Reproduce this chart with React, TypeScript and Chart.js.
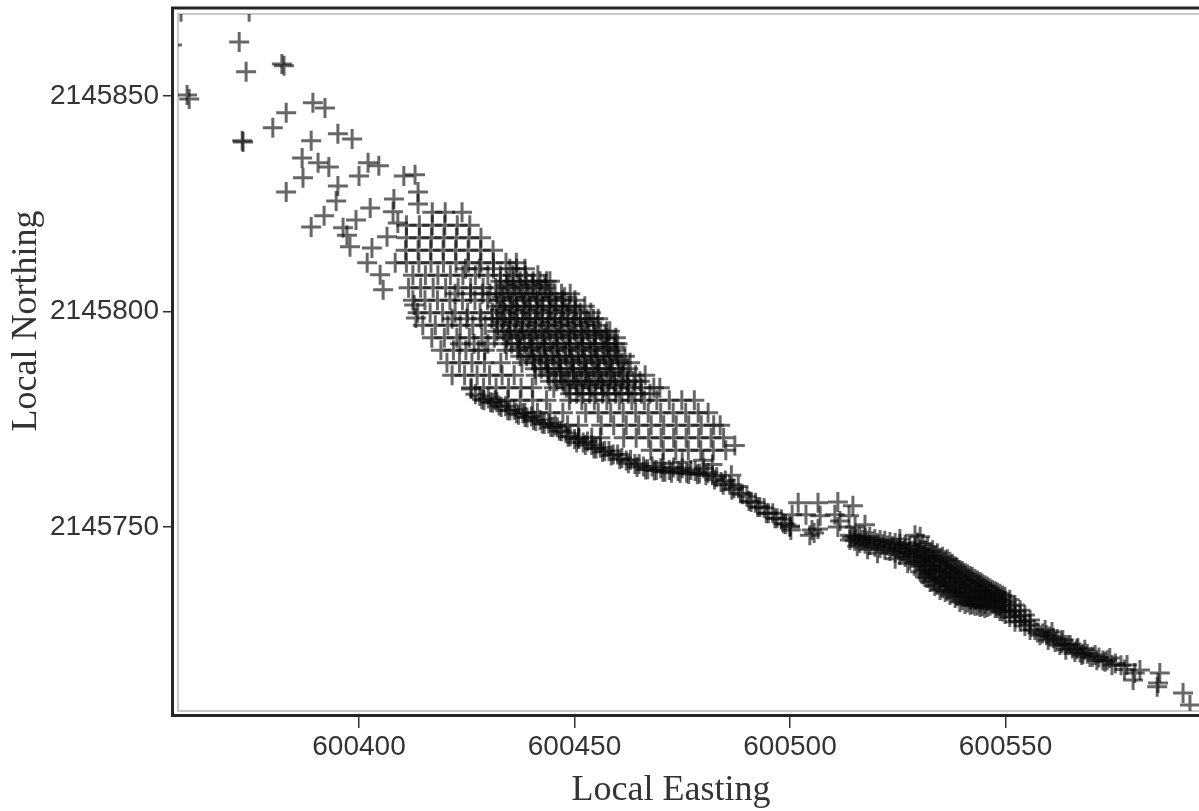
import React, { useEffect, useRef } from "react";
import { Chart, registerables } from "chart.js";

Chart.register(...registerables);

const EAST_BASE = 600000;
const NORTH_BASE = 2145000;
const xTickValues = [600400, 600450, 600500, 600550];
const yTickValues = [2145750, 2145800, 2145850];
const xAxisTitle = "Local Easting";
const yAxisTitle = "Local Northing";

// Isolated soundings, upper left
const sparseEast = [358.7, 374.5, 356.6, 372.2, 373.8, 382.1, 382.6, 360.1, 360.6, 383.1, 389.3, 392.1, 380.0, 372.9, 373.1, 388.9, 395.1, 398.4, 386.8, 390.5, 393.0, 387.0, 383.1, 395.1, 394.7, 402.1, 404.6, 400.0, 410.4, 413.0, 413.7, 413.7, 408.1, 402.6, 391.9, 388.9, 399.3, 396.3, 397.2, 407.9, 397.9, 403.0, 401.9, 404.9, 405.6, 408.4, 406.5, 409.0, 413.2, 412.8];
const sparseNorth = [869.5, 869.5, 861.8, 862.5, 855.6, 857.4, 857.0, 850.2, 849.3, 846.1, 848.4, 847.2, 842.6, 839.6, 839.3, 839.6, 841.2, 840.0, 835.6, 834.5, 833.5, 831.0, 827.7, 829.1, 825.6, 834.5, 833.8, 831.4, 831.4, 831.7, 827.7, 824.9, 826.1, 824.0, 822.2, 819.6, 821.2, 819.4, 817.7, 823.1, 815.0, 814.7, 811.3, 808.5, 805.0, 811.3, 817.3, 820.5, 798.5, 801.5];

// Regular lattice of the upper lobe, one northing per row
const latticeNorth = [823, 820, 817.1, 814.2, 811.3, 808.4, 805.5, 802.6, 799.7, 796.8, 793.9, 791, 788.1, 785.2, 782.3, 779.4, 776.5, 773.6, 770.7, 767.8, 768.9];
const latticeEast = [
  [417.0, 420.0, 423.9],
  [411, 414, 417, 419.9, 422.8, 425.7],
  [411, 414, 416.8, 419.7, 422.6, 425.5, 428.3],
  [410.8, 413.7, 416.6, 419.5, 422.4, 425.3, 428.2, 431.1],
  [411, 413.9, 416.7, 419.6, 422.5, 425.4, 428.3, 431.2, 434.1, 436.5],
  [412.5, 415.4, 418.3, 421.2, 424.1, 427, 429.9, 432.8, 435.7, 438.6, 441.5],
  [411.5, 414.3, 417.2, 420.1, 423, 425.9, 428.8, 431.7, 434.6, 437.5, 440.4, 443.3],
  [412.5, 415.3, 418.2, 421.1, 424, 426.9, 429.8, 432.7, 435.6, 438.5, 441.4, 444.3, 447.2, 450.1],
  [413.6, 416.5, 419.4, 422.3, 425.2, 428.1, 431, 433.9, 436.8, 439.7, 442.6, 445.5, 448.4, 451.3, 453.8],
  [414.8, 417.7, 420.6, 423.5, 426.4, 429.3, 432.2, 435.1, 438, 440.9, 443.8, 446.7, 449.6, 452.5, 455.4],
  [416.9, 419.8, 422.7, 425.6, 428.5, 431.4, 434.3, 437.2, 440.1, 443, 445.9, 448.8, 451.7, 454.6, 457.5, 459.6],
  [419, 421.9, 424.8, 427.7, 429.2, 434.2, 436.8, 439.5, 442.2, 445.1, 448, 450.9, 453.8, 456.7, 459.6],
  [420.4, 423.3, 426.2, 429.1, 432.9, 437.8, 440.7, 443.6, 446.5, 449.4, 452.3, 455.2, 458.1, 461, 462.9],
  [421.6, 424.5, 427.4, 430.3, 433.2, 436, 441, 443.9, 446.8, 449.7, 452.6, 455.5, 458.4, 461.3, 464.2, 466.4],
  [426, 428.9, 431.8, 434.7, 437.6, 440.2, 445.2, 448.1, 451, 453.9, 456.8, 459.7, 462.6, 465.5, 468.4, 469.8],
  [431.6, 434.5, 437.4, 440.3, 443.5, 448.8, 451.7, 454.6, 457.5, 460.4, 463.3, 466.2, 469.1, 472, 474.9, 477.8],
  [438.5, 441.4, 444.3, 447.3, 452.6, 455.5, 458.4, 461.3, 464.2, 467.1, 470, 472.9, 475.8, 478.7, 481],
  [445.5, 448.4, 450.9, 456.2, 459.1, 462, 464.9, 467.8, 470.7, 473.6, 476.5, 479.4, 482.3, 483.8],
  [451, 454, 456, 461.4, 464.3, 467.2, 470.1, 473, 475.9, 478.8, 481.7, 484.6],
  [467.7, 470.6, 473.5, 476.4, 479.3, 482.2, 485.1],
  [487.2],
];

// Passes that darken the lattice on its way into the core
const fadeNorth = [809.9, 804.1, 798.3, 792.5];
const fadeEast = [
  [424.7, 427.9, 431.2],
  [422.3, 425.9, 428.6, 430.4],
  [421.6, 425, 428.3, 430.8],
  [423.4, 426.7, 429.9],
];

// Overlapping passes that make the dark core
const coreNorth = [809.9, 807, 804.1, 801.2, 798.3, 795.4, 792.5, 789.6, 786.7, 783.8, 780.9];
const coreEast = [
  [435, 436.6, 438.5],
  [432.8, 434.3, 435.8, 437.4, 438.9, 440.4, 442, 443.5, 444.3],
  [432, 433.5, 435, 436.5, 438, 439.5, 441, 442.5, 444, 445.5, 447, 449],
  [432, 433.6, 435.1, 436.6, 438.2, 439.7, 441.2, 442.7, 444.2, 445.8, 447.3, 448.8, 450.3, 452.4],
  [432, 433.4, 434.9, 436.4, 437.9, 439.4, 440.9, 442.4, 443.9, 445.4, 446.9, 448.4, 449.9, 451.4, 452.9, 454.4, 455.5],
  [432, 433.5, 435, 436.5, 438, 439.5, 441, 442.5, 444, 445.5, 447, 448.5, 450, 451.5, 453, 454.5, 456, 457.5, 458.2],
  [433.9, 435.4, 436.9, 438.4, 439.9, 441.4, 442.9, 444.4, 445.9, 447.4, 448.9, 450.4, 451.9, 453.4, 454.9, 456.4, 457.9, 459.4, 460],
  [437.4, 438.9, 440.4, 441.9, 443.4, 444.9, 446.4, 447.9, 449.4, 450.9, 452.4, 453.9, 455.4, 456.9, 458.4, 459.9, 461.7],
  [440.8, 442.3, 443.8, 445.3, 446.8, 448.3, 449.8, 451.3, 452.8, 454.3, 455.8, 457.3, 458.8, 460.3, 462.4],
  [444.3, 445.8, 447.3, 448.8, 450.3, 451.8, 453.3, 454.8, 456.3, 457.8, 459.3, 460.8, 462.3, 463.8, 465.2],
  [449, 450.5, 452, 453.5, 455, 456.5, 458, 459.5, 461, 462.5, 464, 465.5, 467.5],
];

// A second set of passes across the darkest part of the core
const core2North = [806.2, 803.3, 800.4, 797.5, 794.6, 791.7, 788.8, 785.9, 783];
const core2East = [
  [434.2, 437.1, 440.2, 443.1],
  [433.2, 436.1, 439, 441.9, 444.8, 447.7],
  [432.7, 435.6, 438.5, 441.4, 444.3, 447.2, 450.1],
  [433.1, 436, 438.9, 441.8, 444.7, 447.6, 450.5, 453.4],
  [434.6, 437.5, 440.4, 443.3, 446.2, 449.1, 452, 454.9, 457.1],
  [437.2, 440.1, 443, 445.9, 448.8, 451.7, 454.6, 457.5, 459.2],
  [440.3, 443.2, 446.1, 449, 451.9, 454.8, 457.7, 460.3],
  [443.9, 446.8, 449.7, 452.6, 455.5, 458.4, 461.3],
  [447.6, 450.5, 453.4, 456.3, 459.2, 462.1],
];

// Tight track along the bottom of the lobe
const trackEast = [426, 427, 428, 429, 430, 431, 432, 433, 434, 435, 436, 437, 438, 439, 440, 441, 442, 443, 444, 445, 446, 447, 448, 449, 450, 451, 452, 453, 454, 455, 456, 457, 458, 459, 460, 461, 462, 463, 464, 465, 466, 467, 468, 469, 470, 471, 472, 473, 474, 475, 476, 477, 478, 479, 480, 481, 482, 483, 484, 485, 486, 487, 488, 489, 490, 491, 492, 493, 494, 495, 496, 497, 498, 499, 500, 479.8, 486.4];
const trackNorth = [782, 780.8, 780.4, 779.4, 779.8, 778.8, 778.9, 777.8, 778, 777, 777.2, 776, 776.4, 775.4, 775.6, 774.6, 774.8, 773.9, 774, 773.2, 773.1, 772.2, 771.8, 771, 770.4, 770.4, 769.6, 769.8, 769, 768.2, 768.4, 767.6, 767.6, 766.8, 766.8, 766, 765.4, 765.6, 764.6, 764.6, 764, 763.4, 764, 763.2, 763.6, 762.8, 763.2, 763.8, 763, 763.6, 762.6, 763.2, 763, 762.4, 763.6, 762.6, 762, 761.6, 760.4, 760.8, 759.8, 759, 759.4, 757.6, 757, 755.8, 755.6, 754.6, 754.4, 753.2, 753.2, 752, 751.8, 750.6, 750.2, 765.5, 762];

// Second pass of the same track
const track2East = [428.5, 430.5, 432.5, 434.5, 436.5, 438.5, 440.5, 442.5, 444.5, 446.5, 448.5, 450.5, 452.5, 454.5, 456.5, 458.5, 460.5, 462.5, 464.5, 466.5, 468.5, 470.5, 472.5, 474.5, 476.5, 478.5, 480.5, 482.5, 484.5, 486.5, 488.5, 490.5, 492.5, 494.5, 496.5, 498.5, 470.5, 475, 482];
const track2North = [779.6, 778.9, 778.2, 777.1, 776.4, 775.5, 774.8, 774, 773.2, 772.3, 770.9, 769.6, 769, 768.2, 767.4, 766.6, 765.7, 764.8, 763.9, 763.3, 763.1, 762.8, 762.6, 762.5, 762.3, 762.2, 762, 761, 759.8, 758.6, 757.8, 756, 754.6, 753.2, 752, 750.8, 764.8, 765, 764.5];

// Small open cluster past the track
const clusterEast = [501.9, 506.5, 511.1, 514.6, 500.5, 503.7, 507, 510.4, 513.7, 500, 500.2, 505.1, 505.6, 504.6, 506.5, 511.1, 515.1, 511.6, 517.4];
const clusterNorth = [755.6, 755.6, 755.8, 754.9, 752.8, 752.8, 752.6, 752.8, 752.6, 750, 749.3, 749.3, 748.6, 748.1, 749.5, 750, 750, 751.4, 750.5];

// Solid band, one easting per column
const bandEast = [513.9, 515, 516.2, 517.4, 518.5, 519.7, 520.9, 522, 523.2, 524.4, 525.5, 526.7, 527.8, 529, 530.2, 531.3, 532.5, 533.6, 534.8, 536, 537.1, 538.3, 539.4, 540.6, 541.8, 542.9, 544.1, 545.2, 546.4, 547.6, 548.7, 549.9, 551, 552.2, 553.4, 554.5, 555.7];
const bandNorth = [
  [748.1, 747], [747.9, 746.8], [747.7, 746.3], [747.4, 746.1], [747.7, 745.8], [747.2, 745.4], [747, 745.1], [746.8, 744.7], [746.5, 744.4], [746.3, 744],
  [746.1, 745.1, 743.5], [745.8, 744.7, 743], [745.6, 744.2, 742.3], [748.1, 745.1, 743.5, 741.6], [747.7, 744.7, 742.8, 740.9, 739.6],
  [744.7, 743.3, 741.9, 740, 738.4], [744.2, 742.6, 741, 739.3, 737.2], [743.3, 741.9, 740, 738.2, 736.3], [742.8, 741.2, 739.6, 737.7, 735.4],
  [742.3, 740.5, 738.6, 736.8, 734.9], [741.9, 740, 738.2, 736.3, 734.2], [740.9, 739.1, 737.2, 735.4, 733.5], [740, 738.2, 736.3, 734.5, 732.6],
  [739.3, 737.5, 735.6, 733.8, 732.1], [738.6, 736.8, 734.9, 733.1, 731.9], [737.9, 736.3, 734.7, 733.1, 731.7], [737.2, 735.6, 734, 732.4, 731.4],
  [736.5, 734.9, 733.5, 732.1, 731.2], [735.8, 734.5, 733.1, 731.7], [735.1, 733.8, 732.4, 731.2], [734.5, 733.1, 731.7, 730.5],
  [733.8, 732.4, 731, 729.8], [733.1, 731.7, 730.3, 729.1], [731.9, 730.5, 729.1, 728], [730.7, 729.4, 728], [729.6, 728.2, 727], [728.4, 727.3, 726.1],
];

// Second passes through the band's fat middle
const band2East = [529.6, 530.8, 531.9, 533.1, 534.2, 535.4, 536.5, 537.7, 538.8, 540, 541.2, 542.3, 543.5, 544.6, 545.8, 547, 548.1, 549.3];
const band2North = [
  [746.4, 743.9, 742.1], [745.9, 743.1, 741, 739], [745.4, 743, 740.5, 738.2], [744.6, 742.3, 739.8, 737.5], [743.9, 741.8, 738.9, 736.6],
  [743.1, 741, 738.3, 735.8], [742.5, 740.2, 737.4, 735.2], [741.4, 739.4, 736.9, 734.8], [740.6, 738.8, 736, 733.9], [739.8, 737.9, 735.1, 733],
  [739, 737.2, 734.4, 732.5], [738.4, 736.6, 733.9, 732.1], [737.6, 735.9, 733.5, 731.8], [736.9, 735.2, 733.1, 731.6], [736.2, 734.7, 732.8, 731.4],
  [735.4, 734.1, 732.1], [734.8, 733.4, 731.2], [734.1, 732.7, 730.4],
];

// Extra passes through the band's narrow start
const band3East = [514.4, 515.6, 516.8, 518, 519.1, 520.3, 521.5, 522.6, 523.8, 525, 526.1, 527.3, 528.4, 520.3, 524.4, 527.3, 525.5, 515.6, 518];
const band3North = [747.6, 747.3, 747, 746.8, 746.7, 746.2, 746, 745.7, 745.5, 745, 744.4, 744, 743.2, 743.9, 742.6, 741.6, 747.2, 745.5, 744.8];

// Thinning tail toward the right edge
const tailEast = [556.8, 558, 559.2, 559.9, 560.8, 561.5, 562.6, 563.3, 564, 565, 566.1, 566.8, 567.7, 568.4, 569.6, 570.8, 571.2, 573.1, 574.2, 574.7, 578.2, 580, 581.2, 579.6, 585.8, 585.2, 585.4, 591.2, 592.8];
const tailNorth = [726.1, 724.9, 726.1, 723.8, 725.6, 723.3, 722.6, 723.8, 721.5, 722.6, 721, 721.9, 720.3, 721.5, 719.8, 720.3, 719.1, 718.7, 719.6, 718, 718, 716.1, 716.8, 714.5, 716.1, 712.9, 713.8, 711.5, 708.7];
const tail2East = [557.4, 558.6, 559.5, 560.2, 561.1, 562, 563, 563.8, 564.5, 565.5, 566.5, 567.3, 568, 569, 570.2, 571.7, 572.6, 573.6, 575.5, 576.8, 577.6];
const tail2North = [725.5, 725.3, 724.9, 724.6, 724.2, 724, 723, 722.6, 722.6, 721.8, 721.6, 720.9, 720.6, 720.6, 719.9, 719.7, 719, 719.1, 718.3, 717.9, 716.9];

type Pt = { x: number; y: number };
const fromPairs = (east: number[], north: number[]): Pt[] =>
  east.map((e, i) => ({ x: EAST_BASE + e, y: NORTH_BASE + north[i] }));
const fromRows = (north: number[], east: number[][]): Pt[] =>
  north.flatMap((n, i) => east[i].map((e) => ({ x: EAST_BASE + e, y: NORTH_BASE + n })));
const fromColumns = (east: number[], north: number[][]): Pt[] =>
  east.flatMap((e, i) => north[i].map((n) => ({ x: EAST_BASE + e, y: NORTH_BASE + n })));

const allPoints: Pt[] = [
  ...fromPairs(sparseEast, sparseNorth),
  ...fromRows(latticeNorth, latticeEast),
  ...fromRows(fadeNorth, fadeEast),
  ...fromRows(coreNorth, coreEast),
  ...fromRows(core2North, core2East),
  ...fromPairs(trackEast, trackNorth),
  ...fromPairs(track2East, track2North),
  ...fromPairs(clusterEast, clusterNorth),
  ...fromColumns(bandEast, bandNorth),
  ...fromColumns(band2East, band2North),
  ...fromPairs(band3East, band3North),
  ...fromPairs(tailEast, tailNorth),
  ...fromPairs(tail2East, tail2North),
];

const framePlugin = {
  id: "frame",
  beforeDatasetsDraw(chart: any) {
    const { ctx, chartArea: a } = chart;
    ctx.save();
    ctx.fillStyle = "#fff";
    ctx.fillRect(a.left - 5, a.bottom, a.right - a.left + 5, 4);
    ctx.fillRect(a.left - 5, a.top - 5, 5, a.bottom - a.top + 5);
    ctx.strokeStyle = "#c8c8c8";
    ctx.lineWidth = 2;
    ctx.beginPath();
    ctx.moveTo(a.right, a.top);
    ctx.lineTo(a.left, a.top);
    ctx.lineTo(a.left, a.bottom);
    ctx.lineTo(a.right, a.bottom);
    ctx.stroke();
    ctx.strokeStyle = "#262626";
    ctx.lineWidth = 3;
    ctx.beginPath();
    ctx.moveTo(a.right, a.top - 6);
    ctx.lineTo(a.left - 5.5, a.top - 6);
    ctx.lineTo(a.left - 5.5, a.bottom + 4.5);
    ctx.lineTo(a.right, a.bottom + 4.5);
    ctx.stroke();

    // The axis titles sit off the plot's centre, so they are placed here
    ctx.fillStyle = "#333";
    ctx.font = "36px 'Liberation Serif'";
    ctx.textAlign = "center";
    ctx.textBaseline = "middle";
    ctx.fillText(xAxisTitle, 671, 791);
    ctx.translate(27, 321);
    ctx.rotate(-Math.PI / 2);
    ctx.fillText(yAxisTitle, 0, 0);
    ctx.restore();
  },
};

export default function App() {
  const ref = useRef<HTMLCanvasElement>(null);
  useEffect(() => {
    const chart = new Chart(ref.current!, {
      type: "scatter",
      data: {
        datasets: [
          {
            data: allPoints,
            pointStyle: "cross",
            pointRadius: 10,
            pointBorderWidth: 3,
            pointBorderColor: "rgba(10,10,10,0.62)",
            pointBackgroundColor: "rgba(0,0,0,0)",
          },
        ],
      },
      options: {
        animation: false,
        responsive: false,
        layout: { autoPadding: false, padding: { top: 14, left: 0, right: 0, bottom: 0 } },
        plugins: { legend: { display: false }, tooltip: { enabled: false } },
        scales: {
          x: {
            type: "linear",
            min: 600358,
            max: 600594.9,
            afterFit: (s: any) => { s.height = 100; s.paddingLeft = 0; s.paddingRight = 0; },
            afterBuildTicks: (s: any) => { s.ticks = xTickValues.map((value) => ({ value })); },
            border: { display: false },
            grid: { drawOnChartArea: false, drawTicks: true, tickLength: 17, color: "#333", lineWidth: 1.5 },
            ticks: {
              autoSkip: false,
              maxRotation: 0,
              padding: 2,
              color: "#333",
              font: { family: "'Liberation Sans'", size: 28 },
              callback: (v: any) => String(v),
            },
          },
          y: {
            type: "linear",
            min: 2145707.3,
            max: 2145869,
            afterFit: (s: any) => { s.width = 178; s.paddingTop = 0; s.paddingBottom = 0; },
            afterBuildTicks: (s: any) => { s.ticks = yTickValues.map((value) => ({ value })); },
            border: { display: false },
            grid: { drawOnChartArea: false, drawTicks: true, tickLength: 15, color: "#333", lineWidth: 1.5 },
            ticks: {
              autoSkip: false,
              padding: 4,
              color: "#333",
              font: { family: "'Liberation Sans'", size: 28 },
              callback: (v: any) => String(v),
            },
          },
        },
      },
      plugins: [framePlugin],
    } as any);
    return () => chart.destroy();
  }, []);
  return (
    <div style={{ position: "fixed", left: 0, top: 0, width: 1199, height: 811, background: "#fff", overflow: "hidden" }}>
      <canvas ref={ref} width={1199} height={811} style={{ display: "block", filter: "blur(0.75px)" }} />
    </div>
  );
}
